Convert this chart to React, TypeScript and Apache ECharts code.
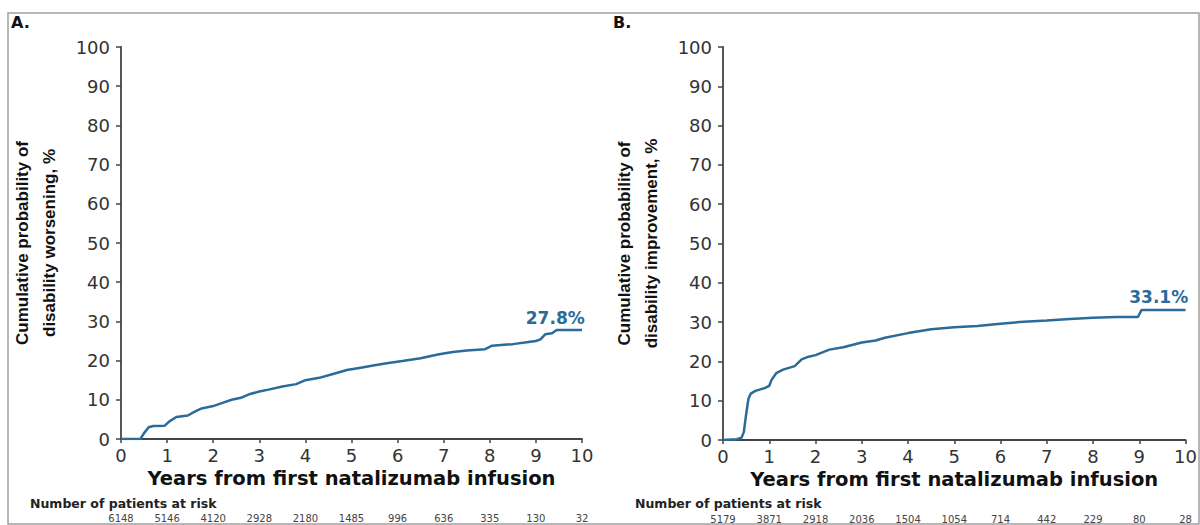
import React, { useEffect, useRef } from "react";
import * as echarts from "echarts";

// Panel A: cumulative probability of disability worsening
const yearsA = [0, 0.42, 0.5, 0.6, 0.7, 0.95, 1.05, 1.2, 1.45, 1.6, 1.75, 2.0, 2.2, 2.4, 2.6, 2.8, 3.0, 3.2, 3.5, 3.8, 4.0, 4.3, 4.6, 4.9, 5.2, 5.5, 5.8, 6.1, 6.5, 6.9, 7.2, 7.5, 7.9, 8.05, 8.5, 8.8, 9.0, 9.1, 9.2, 9.35, 9.45, 10];
const probA = [0, 0, 1.5, 3.0, 3.3, 3.4, 4.5, 5.6, 6.0, 7.0, 7.8, 8.4, 9.2, 10.0, 10.5, 11.5, 12.1, 12.6, 13.4, 14.0, 15.0, 15.6, 16.6, 17.6, 18.2, 18.8, 19.4, 19.9, 20.6, 21.6, 22.2, 22.6, 22.9, 23.8, 24.2, 24.7, 25.0, 25.4, 26.7, 27.0, 27.8, 27.8];
const riskA = [6148, 5146, 4120, 2928, 2180, 1485, 996, 636, 335, 130, 32];
const finalLabelA = "27.8%";

// Panel B: cumulative probability of disability improvement
const yearsB = [0, 0.3, 0.4, 0.45, 0.5, 0.55, 0.6, 0.7, 0.9, 1.0, 1.05, 1.15, 1.3, 1.55, 1.7, 1.85, 2.0, 2.3, 2.6, 3.0, 3.3, 3.5, 4.0, 4.5, 5.0, 5.5, 6.0, 6.5, 7.0, 7.5, 8.0, 8.5, 8.97, 9.05, 10];
const probB = [0, 0.2, 0.6, 2.0, 6.5, 10.5, 11.8, 12.5, 13.2, 13.8, 15.3, 17.0, 17.9, 18.8, 20.5, 21.2, 21.6, 23.0, 23.6, 24.8, 25.3, 26.0, 27.2, 28.2, 28.7, 29.0, 29.6, 30.1, 30.4, 30.8, 31.1, 31.3, 31.3, 33.1, 33.1];
const riskB = [5179, 3871, 2918, 2036, 1504, 1054, 714, 442, 229, 80, 28];
const finalLabelB = "33.1%";

const xTitle = "Years from first natalizumab infusion";
const yTitleA = "Cumulative probability of\ndisability worsening, %";
const yTitleB = "Cumulative probability of\ndisability improvement, %";
const riskTitle = "Number of patients at risk";
const labelYear = 9.42;

const LINE = "#2a6b9a";
const AXIS = "#444";
const TXT = "#333";
const FONT = "DejaVu Sans";

function zip(xs: number[], ys: number[]) {
  return xs.map((x, i) => [x, ys[i]]);
}

export default function App() {
  const ref = useRef<HTMLDivElement>(null);
  useEffect(() => {
    const chart = echarts.init(ref.current!, undefined, { renderer: "svg" });
    const mkX = (gi: number) => ({
      type: "value",
      gridIndex: gi,
      min: 0,
      max: 10,
      interval: 1,
      axisLine: { show: true, lineStyle: { color: AXIS, width: 1.8 } },
      axisTick: { show: true, length: 4, lineStyle: { color: AXIS, width: 1.5 } },
      axisLabel: { fontSize: 18, fontFamily: FONT, color: TXT, margin: 7 },
      splitLine: { show: false },
      name: xTitle,
      nameLocation: "middle",
      nameGap: 28,
      nameTextStyle: { fontSize: 19.5, fontFamily: FONT, fontWeight: "bold", color: "#111" },
    });
    const mkRiskX = (gi: number, risk: number[]) => ({
      type: "value",
      gridIndex: gi,
      position: "bottom",
      offset: 66,
      min: 0,
      max: 10,
      interval: 1,
      axisLine: { show: false },
      axisTick: { show: false },
      splitLine: { show: false },
      axisLabel: {
        fontSize: 10,
        fontFamily: FONT,
        color: "#444",
        margin: 8,
        formatter: (v: number) => String(risk[Math.round(v)] ?? ""),
      },
    });
    const mkY = (gi: number, title: string) => ({
      type: "value",
      gridIndex: gi,
      min: 0,
      max: 100,
      interval: 10,
      axisLine: { show: true, lineStyle: { color: AXIS, width: 1.8 } },
      axisTick: { show: true, length: 5, lineStyle: { color: AXIS, width: 1.5 } },
      axisLabel: { fontSize: 18, fontFamily: FONT, color: TXT, margin: 11 },
      splitLine: { show: false },
      name: title,
      nameLocation: "middle",
      nameRotate: 90,
      nameGap: 58,
      nameTextStyle: {
        fontSize: 17,
        fontFamily: "Liberation Sans",
        fontWeight: "bold",
        color: "#111",
        lineHeight: 27,
      },
    });
    const mkSeries = (gi: number, xs: number[], ys: number[], lbl: string) => ({
      type: "line",
      xAxisIndex: gi * 2,
      yAxisIndex: gi,
      data: zip(xs, ys),
      showSymbol: false,
      lineStyle: { color: LINE, width: 2.5 },
      markPoint: {
        symbol: "circle",
        symbolSize: 0,
        data: [
          {
            coord: [labelYear, ys[ys.length - 1]],
            label: {
              show: true,
              position: "top",
              distance: 4,
              formatter: lbl,
              fontSize: 17,
              fontFamily: FONT,
              fontWeight: "bold",
              color: LINE,
            },
          },
        ],
      },
    });
    chart.setOption({
      animation: false,
      grid: [
        { left: 121, top: 47, width: 461, height: 392 },
        { left: 723, top: 47, width: 464, height: 393 },
      ],
      xAxis: [mkX(0), mkRiskX(0, riskA), mkX(1), mkRiskX(1, riskB)],
      yAxis: [mkY(0, yTitleA), mkY(1, yTitleB)],
      series: [
        mkSeries(0, yearsA, probA, finalLabelA),
        mkSeries(1, yearsB, probB, finalLabelB),
      ],
      graphic: [
        {
          type: "rect",
          shape: { x: 8, y: 13, width: 1191, height: 511 },
          style: { fill: "none", stroke: "#a0a0a0", lineWidth: 1.5 },
          silent: true,
        },
        {
          type: "text",
          x: 11,
          y: 22,
          style: { text: "A.", font: `bold 16px ${FONT}`, fill: "#111", verticalAlign: "middle" },
        },
        {
          type: "text",
          x: 613,
          y: 22,
          style: { text: "B.", font: `bold 16px ${FONT}`, fill: "#111", verticalAlign: "middle" },
        },
        {
          type: "text",
          x: 30,
          y: 503,
          style: { text: riskTitle, font: `bold 12.5px ${FONT}`, fill: "#222", verticalAlign: "middle" },
        },
        {
          type: "text",
          x: 635,
          y: 503,
          style: { text: riskTitle, font: `bold 12.5px ${FONT}`, fill: "#222", verticalAlign: "middle" },
        },
      ],
    });
    return () => chart.dispose();
  }, []);
  return (
    <div
      ref={ref}
      style={{ position: "fixed", left: 0, top: 0, width: 1200, height: 525, background: "#fff" }}
    />
  );
}
